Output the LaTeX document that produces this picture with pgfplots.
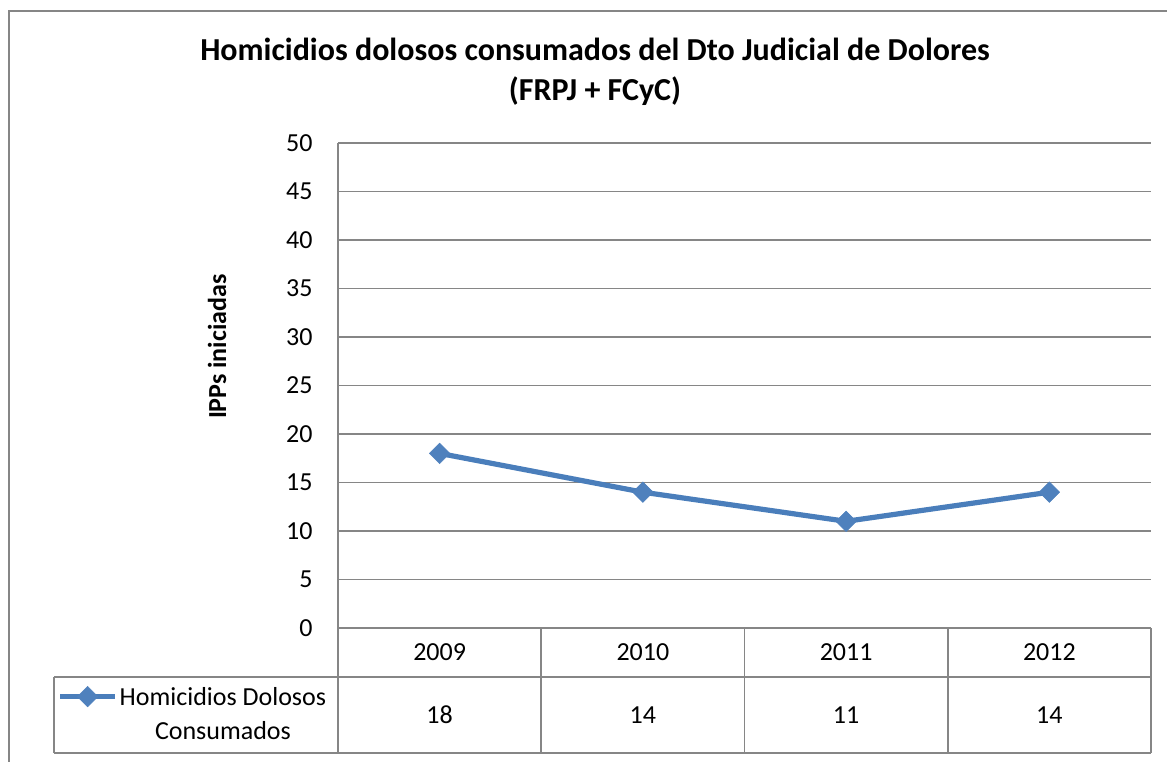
\documentclass[border=0pt]{standalone}
\usepackage{pgfplots}
\pgfplotsset{compat=1.18}
\usepackage{pgfplotstable}
\usepackage{fontspec}
\setmainfont{Carlito}
\definecolor{gridgray}{HTML}{868686}
\definecolor{serblue}{HTML}{4A7EBB}
\definecolor{markblue}{HTML}{4F81BD}
\pgfplotstableread{
x year y
0 2009 18
1 2010 14
2 2011 11
3 2012 14
}\datatable
\begin{document}
\begin{tikzpicture}[x=1pt,y=1pt]
\useasboundingbox (0,0) rectangle (583.5,380.5);
\clip (0,0) rectangle (583.5,380.5);
\draw[gridgray, line width=1pt] (4.25,-20) -- (4.25,375) -- (600,375);
\node[align=center, font=\fontsize{16}{20}\selectfont\bfseries] at (297.5,344.5) {Homicidios dolosos consumados del Dto Judicial de Dolores\\(FRPJ + FCyC)};
\begin{axis}[
  at={(169pt,66.5pt)}, anchor=south west,
  width=406.5pt, height=242.5pt, scale only axis,
  xmin=-0.5, xmax=3.5, ymin=0, ymax=50,
  ytick={0,5,...,50},
  xtick={0,1,2,3},
  xticklabels={2009,2010,2011,2012},
  major tick length=0pt,
  axis lines=left, axis line style={-, gridgray, line width=0.8pt},
  ymajorgrids, grid style={gridgray, line width=0.8pt},
  clip=false,
  /pgf/number format/assume math mode=true,
  tick label style={font=\fontsize{13}{15.6}\selectfont},
  yticklabel style={anchor=east, inner sep=0pt, xshift=-12.5pt},
  xticklabel style={anchor=center, inner sep=0pt, yshift=-12.25pt},
  ylabel={IPPs iniciadas},
  label style={font=\fontsize{13}{15.6}\selectfont\bfseries},
  ylabel style={at={(axis description cs:-0.1488,0.58)}, anchor=center},
  legend style={draw=none, fill=none, inner sep=0pt, outer sep=0pt,
    font=\fontsize{13}{17}\selectfont, column sep=1pt,
    nodes={inner sep=0pt}, cells={anchor=base west},
    at={(axis description cs:-0.345,-0.1097)}, anchor=north west},
  legend image code/.code={\draw[mark repeat=2,mark phase=2,#1] plot coordinates {(0pt,4.2pt) (13.75pt,4.2pt) (27.5pt,4.2pt)};},
]
\addplot[serblue, line width=2.6pt, mark=square*, mark size=3.6pt,
  mark options={rotate=45, fill=markblue, draw=markblue, line width=0.3pt}]
  table[x=x, y=y] {\datatable};
\addlegendentry{\begin{tabular}[t]{@{}c@{}}Homicidios Dolosos\\Consumados\end{tabular}}
\addplot[draw=none, mark=none, forget plot, nodes near coords, point meta=explicit,
  nodes near coords style={anchor=center, inner sep=0pt, font=\fontsize{13}{15.6}\selectfont}]
  table[x=x, y expr=-8.969, meta=y] {\datatable};
\pgfplotsinvokeforeach{-0.5,0.5,1.5,2.5,3.5}{
  \draw[gridgray, line width=0.8pt] (axis cs:#1,0) -- (axis cs:#1,-12.887);
}
\draw[gridgray, line width=0.8pt] (axis cs:-1.897,-5.05) -- (axis cs:3.5,-5.05);
\draw[gridgray, line width=0.8pt] (axis cs:-1.897,-12.887) -- (axis cs:3.5,-12.887);
\draw[gridgray, line width=0.8pt] (axis cs:-1.897,-5.05) -- (axis cs:-1.897,-12.887);
\end{axis}
\end{tikzpicture}
\end{document}
